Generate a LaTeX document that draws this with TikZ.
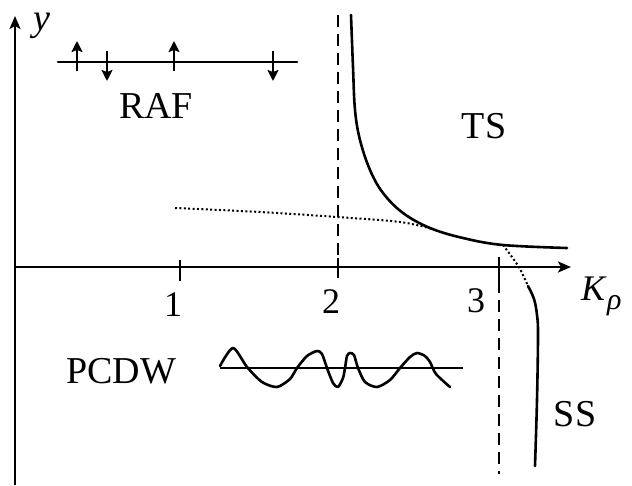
\documentclass[tikz,border=0pt]{standalone}
\usepackage{fontspec}
\setmainfont{Liberation Serif}
\usetikzlibrary{arrows.meta}
\begin{document}
\begin{tikzpicture}[x=1pt,y=-1pt,
  lbl/.style={font=\fontsize{38}{40}\selectfont, inner sep=0pt, anchor=base},
  num/.style={font=\fontsize{36}{38}\selectfont, inner sep=0pt, anchor=base},
  axis/.style={line width=2.6pt, -{Stealth[length=13pt,width=11pt,inset=3pt]}},
  tick/.style={line width=2.6pt},
  curve/.style={line width=2.6pt, line cap=round},
  vdash/.style={line width=2.6pt, dash pattern=on 12pt off 7pt},
  dots/.style={line width=2pt, dash pattern=on 2pt off 2.4pt},
  spin/.style={line width=2.6pt, -{Stealth[length=11pt,width=11pt,inset=2pt]}}]
\useasboundingbox (0,0) rectangle (632,485);
% axes
\coordinate (yb) at (15,485);
\coordinate (yt) at (15,16);
\coordinate (xl) at (14,267);
\coordinate (xr) at (571,267);
\draw[axis] (yb) -- (yt);
\draw[axis] (xl) -- (xr);
% ticks
\draw[tick] (180,260) -- (180,281);
\draw[tick] (338,258) -- (338,278);
\draw[tick] (499,257) -- (499,281);
\node[num] (n1) at (173,316) {1};
\node[num] (n2) at (331,313) {2};
\node[num] (n3) at (476,312) {3};
% axis labels
\node[font=\fontsize{38}{40}\selectfont\itshape, inner sep=0pt, anchor=base] (ylab) at (42,30) {y};
\node[font=\fontsize{36}{38}\selectfont\itshape, inner sep=0pt, anchor=base west] (K) at (581,300) {K};
\node[font=\fontsize{30}{32}\selectfont\itshape, inner sep=0pt, anchor=base west] (rho) at (607,309) {ρ};
% dashed verticals
\draw[vdash] (338,15) -- (338,267);
\draw[vdash] (499,281) -- (499,474);
% TS boundary
\draw[curve] plot[smooth, tension=0.6] coordinates {(351,15) (353,67) (355,110) (360,140) (370,170) (383,193) (403,213) (430,228) (463,238) (503,245) (567,248)};
% dotted line merging with it
\draw[dots] plot[smooth, tension=0.6] coordinates {(175,208) (260,212) (337,217) (400,222) (432,229)};
% SS boundary
\draw[dots] plot[smooth] coordinates {(503,245) (512,257) (520,269) (528,286)};
\draw[curve] plot[smooth, tension=0.6] coordinates {(528,286) (534,299) (537,315) (538,335) (537,400) (535,466)};
% RAF chain
\draw[curve] (58,62) -- (297,62);
\draw[spin] (77,71) -- (77,41);
\draw[spin] (174,71) -- (174,41);
\draw[spin] (107,51) -- (107,81);
\draw[spin] (273,51) -- (273,81);
% PCDW wave
\draw[line width=2.6pt] (220,368) -- (463,368);
\draw[curve, line join=round] plot[smooth, tension=0.45] coordinates {(220,366) (233,348) (247,367) (262,382) (277,387) (290,379) (297,368) (307,356) (317,351) (322,354) (327,368) (333,383) (338,387) (343,378) (345,368) (347,356) (350,353) (354,355) (358,368) (365,382) (377,387) (390,380) (400,368) (410,357) (417,353) (425,356) (430,362) (436,374) (450,387)};
% region labels
\node[lbl] (raf) at (156,118) {RAF};
\node[lbl] (ts) at (484,138) {TS};
\node[lbl] (pcdw) at (121,383) {PCDW};
\node[lbl] (ss) at (575,426) {SS};
\end{tikzpicture}
\end{document}
